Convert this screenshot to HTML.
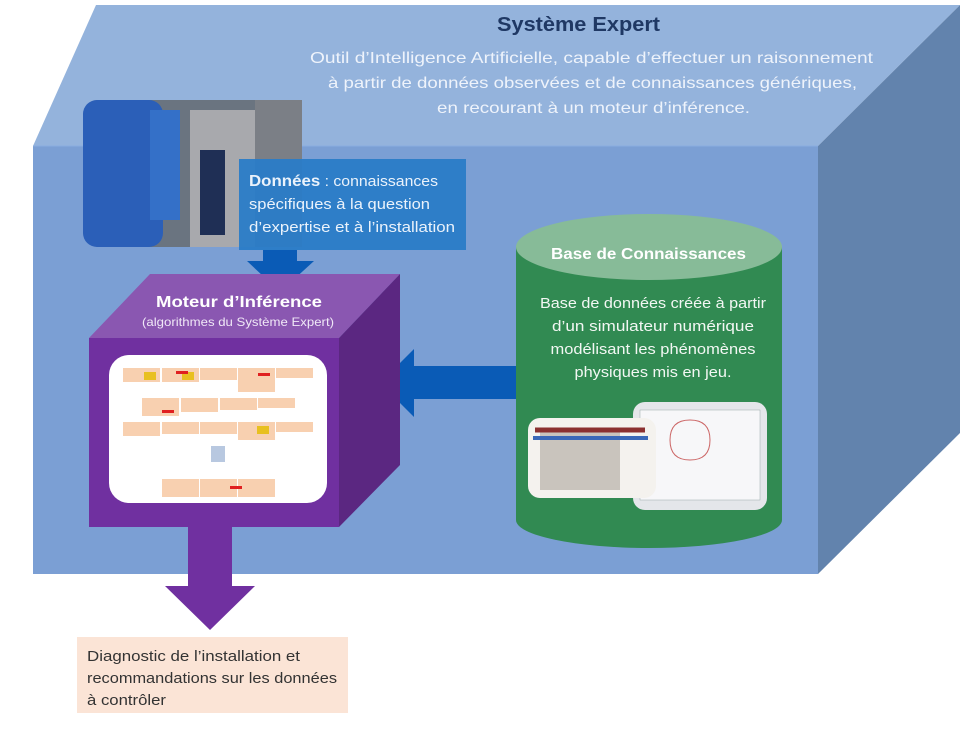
<!DOCTYPE html>
<html><head><meta charset="utf-8"><style>
html,body{margin:0;padding:0;background:#fff;width:967px;height:729px;overflow:hidden}
svg{display:block}
text{font-family:"Liberation Sans",sans-serif}
</style></head><body>
<svg width="967" height="729" viewBox="0 0 967 729" xmlns="http://www.w3.org/2000/svg">
<polygon points="33,146 96,5 960,5 818,146" fill="#94b3dc"/>
<polygon points="818,146 960,5 960,433 818,574" fill="#6283ad"/>
<rect x="33" y="146" width="785" height="428" fill="#7b9fd4"/>
<line x1="33" y1="146" x2="818" y2="146" stroke="#8aaee0" stroke-width="1"/>
<text x="497" y="31" textLength="163" lengthAdjust="spacingAndGlyphs" font-size="20" font-weight="bold" fill="#1f3864">Système Expert</text>
<g fill="#eef3fb" font-size="16">
<text x="310" y="63" textLength="563" lengthAdjust="spacingAndGlyphs">Outil d’Intelligence Artificielle, capable d’effectuer un raisonnement</text>
<text x="328" y="88" textLength="529" lengthAdjust="spacingAndGlyphs">à partir de données observées et de connaissances génériques,</text>
<text x="437" y="113" textLength="313" lengthAdjust="spacingAndGlyphs">en recourant à un moteur d’inférence.</text>
</g>
<!-- photo -->
<rect x="83" y="100" width="219" height="147" rx="16" fill="#6a7480"/>
<rect x="83" y="100" width="80" height="147" rx="14" fill="#2b5fb8"/>
<rect x="150" y="110" width="30" height="110" fill="#3470c8"/>
<rect x="190" y="110" width="70" height="137" fill="#a8a9ad"/>
<rect x="200" y="150" width="25" height="85" fill="#1f2f55"/>
<rect x="255" y="100" width="47" height="147" fill="#7b7f86"/>
<rect x="239" y="159" width="227" height="91" fill="#2a7cc7" opacity="0.95"/>
<g fill="#eaf2fb" font-size="15">
<text x="249" y="186" textLength="189" lengthAdjust="spacingAndGlyphs"><tspan font-weight="bold" font-size="16">Données</tspan> : connaissances</text>
<text x="249" y="209" textLength="181" lengthAdjust="spacingAndGlyphs">spécifiques à la question</text>
<text x="249" y="232" textLength="206" lengthAdjust="spacingAndGlyphs">d’expertise et à l’installation</text>
</g>
<polygon points="263,250 297,250 297,261 314,261 280,292 247,261 263,261" fill="#0a5bb6"/>
<!-- cylinder -->
<path d="M516,247 L516,520 A133,28 0 0 0 782,520 L782,247 Z" fill="#318a52"/>
<ellipse cx="649" cy="247" rx="133" ry="33" fill="#87bb98"/>
<text x="551" y="259" textLength="195" lengthAdjust="spacingAndGlyphs" font-size="16" font-weight="bold" fill="#fff">Base de Connaissances</text>
<g fill="#f2f7f3" font-size="15" text-anchor="middle">
<text x="653" y="308" textLength="226" lengthAdjust="spacingAndGlyphs">Base de données créée à partir</text>
<text x="653" y="331" textLength="202" lengthAdjust="spacingAndGlyphs">d’un simulateur numérique</text>
<text x="653" y="354" textLength="205" lengthAdjust="spacingAndGlyphs">modélisant les phénomènes</text>
<text x="653" y="377" textLength="157" lengthAdjust="spacingAndGlyphs">physiques mis en jeu.</text>
</g>
<rect x="633" y="402" width="134" height="108" rx="12" fill="#e4e6ea"/>
<rect x="640" y="410" width="120" height="90" fill="#f7f7f9" stroke="#9aa" stroke-width="0.5"/>
<path d="M690,420 q20,0 20,20 q0,20 -20,20 q-20,0 -20,-20 q0,-20 20,-20" fill="none" stroke="#c66" stroke-width="1"/>
<rect x="528" y="418" width="128" height="80" rx="12" fill="#f4f2ee"/>
<rect x="540" y="430" width="80" height="60" fill="#c9c4bd"/>
<path d="M535,430 h110" stroke="#8b3030" stroke-width="5"/>
<path d="M533,438 h115" stroke="#3a68b8" stroke-width="4"/>
<polygon points="516,366 414,366 414,349 380,383 414,417 414,399 516,399" fill="#0a5bb6"/>
<!-- Moteur cube -->
<polygon points="89,338 150,274 400,274 339,338" fill="#8a57b1"/>
<polygon points="339,338 400,274 400,465 339,527" fill="#5b2781"/>
<rect x="89" y="338" width="250" height="189" fill="#7030a0"/>
<text x="156" y="307" textLength="166" lengthAdjust="spacingAndGlyphs" font-size="16" font-weight="bold" fill="#fff">Moteur d’Inférence</text>
<text x="142" y="326" textLength="192" lengthAdjust="spacingAndGlyphs" font-size="12" fill="#f0e8f7">(algorithmes du Système Expert)</text>
<rect x="109" y="355" width="218" height="148" rx="20" fill="#fff"/>
<g fill="#f8d0b0">
<rect x="123" y="368" width="37" height="14"/><rect x="162" y="368" width="37" height="14"/><rect x="200" y="368" width="37" height="12"/><rect x="238" y="368" width="37" height="24"/><rect x="276" y="368" width="37" height="10"/>
<rect x="142" y="398" width="37" height="18"/><rect x="181" y="398" width="37" height="14"/><rect x="220" y="398" width="37" height="12"/><rect x="258" y="398" width="37" height="10"/>
<rect x="123" y="422" width="37" height="14"/><rect x="162" y="422" width="37" height="12"/><rect x="200" y="422" width="37" height="12"/><rect x="238" y="422" width="37" height="18"/><rect x="276" y="422" width="37" height="10"/>
<rect x="162" y="479" width="37" height="18"/><rect x="200" y="479" width="37" height="18"/><rect x="238" y="479" width="37" height="18"/>
</g>
<g fill="#e8c020"><rect x="144" y="372" width="12" height="8"/><rect x="182" y="372" width="12" height="8"/><rect x="257" y="426" width="12" height="8"/></g>
<g fill="#e02020"><rect x="176" y="371" width="12" height="3"/><rect x="258" y="373" width="12" height="3"/><rect x="162" y="410" width="12" height="3"/><rect x="230" y="486" width="12" height="3"/></g>
<rect x="211" y="446" width="14" height="16" fill="#b8c8e0"/>
<polygon points="188,527 232,527 232,586 255,586 210,630 165,586 188,586" fill="#7030a0"/>
<rect x="77" y="637" width="271" height="76" fill="#fbe4d6"/>
<g fill="#333" font-size="15">
<text x="87" y="661" textLength="213" lengthAdjust="spacingAndGlyphs">Diagnostic de l’installation et</text>
<text x="87" y="683" textLength="250" lengthAdjust="spacingAndGlyphs">recommandations sur les données</text>
<text x="87" y="705" textLength="79" lengthAdjust="spacingAndGlyphs">à contrôler</text>
</g>
</svg>
</body></html>
